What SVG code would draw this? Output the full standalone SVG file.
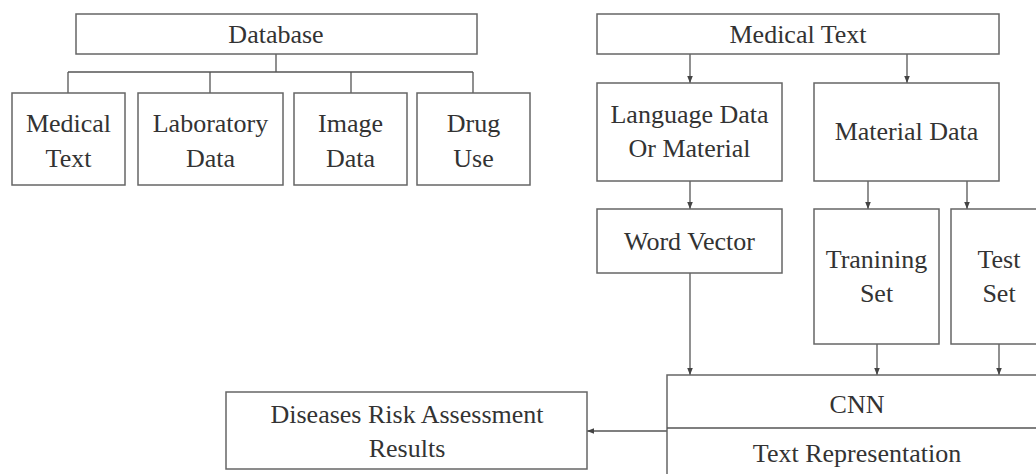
<svg xmlns="http://www.w3.org/2000/svg" width="1036" height="474" viewBox="0 0 1036 474">
<style>
.b{fill:#fff;stroke:#666;stroke-width:1.5}
.t{font-family:"Liberation Serif","Times New Roman",serif;font-size:26px;fill:#333;text-anchor:middle}
.c{fill:none;stroke:#555;stroke-width:1.3}
</style>
<defs>
<marker id="ah" viewBox="0 0 10 10" refX="10" refY="5" markerWidth="7" markerHeight="7" markerUnits="userSpaceOnUse" orient="auto">
<path d="M0,1 L10,5 L0,9 Z" fill="#444"/>
</marker>
</defs>
<rect width="1036" height="474" fill="#fff"/>
<g id="connectors">
<path class="c" d="M276,54 V72 M68,72 H473 M68,72 V93 M210,72 V93 M351,72 V93 M473,72 V93"/>
<path class="c" d="M690,54 V83" marker-end="url(#ah)"/>
<path class="c" d="M907,54 V83" marker-end="url(#ah)"/>
<path class="c" d="M690,181 V209" marker-end="url(#ah)"/>
<path class="c" d="M868,181 V209" marker-end="url(#ah)"/>
<path class="c" d="M967,181 V209" marker-end="url(#ah)"/>
<path class="c" d="M690,273 V375" marker-end="url(#ah)"/>
<path class="c" d="M877,344 V375" marker-end="url(#ah)"/>
<path class="c" d="M999,344 V375" marker-end="url(#ah)"/>
<path class="c" d="M667,431 H587" marker-end="url(#ah)"/>
</g>
<g id="database"><rect class="b" x="76" y="14" width="401" height="40"/><text class="t" x="276" y="43">Database</text></g>
<g id="db-medical-text"><rect class="b" x="12" y="93" width="113" height="92"/><text class="t" x="68.5" y="132">Medical</text><text class="t" x="68.5" y="167">Text</text></g>
<g id="db-laboratory"><rect class="b" x="138" y="93" width="145" height="92"/><text class="t" x="210.5" y="132">Laboratory</text><text class="t" x="210.5" y="167">Data</text></g>
<g id="db-image"><rect class="b" x="294" y="93" width="113" height="92"/><text class="t" x="350.5" y="132">Image</text><text class="t" x="350.5" y="167">Data</text></g>
<g id="db-drug"><rect class="b" x="417" y="93" width="113" height="92"/><text class="t" x="473.5" y="132">Drug</text><text class="t" x="473.5" y="167">Use</text></g>
<g id="medical-text"><rect class="b" x="597" y="14" width="402" height="40"/><text class="t" x="798" y="43">Medical Text</text></g>
<g id="language-data"><rect class="b" x="597" y="83" width="185" height="98"/><text class="t" x="689.5" y="123">Language Data</text><text class="t" x="689.5" y="157">Or Material</text></g>
<g id="material-data"><rect class="b" x="814" y="83" width="185" height="98"/><text class="t" x="906.5" y="140">Material Data</text></g>
<g id="word-vector"><rect class="b" x="597" y="209" width="185" height="64"/><text class="t" x="689.5" y="250">Word Vector</text></g>
<g id="training-set"><rect class="b" x="814" y="209" width="125" height="135"/><text class="t" x="876.5" y="268">Tranining</text><text class="t" x="876.5" y="302">Set</text></g>
<g id="test-set"><rect class="b" x="951" y="209" width="100" height="135"/><text class="t" x="999" y="268">Test</text><text class="t" x="999" y="302">Set</text></g>
<g id="cnn"><rect class="b" x="667" y="375" width="380" height="110"/><line class="c" x1="667" y1="428" x2="1047" y2="428"/><text class="t" x="857" y="413">CNN</text><text class="t" x="857" y="462">Text Representation</text></g>
<g id="results"><rect class="b" x="226" y="392" width="361" height="77"/><text class="t" x="407" y="423">Diseases Risk Assessment</text><text class="t" x="407" y="457">Results</text></g>
</svg>
